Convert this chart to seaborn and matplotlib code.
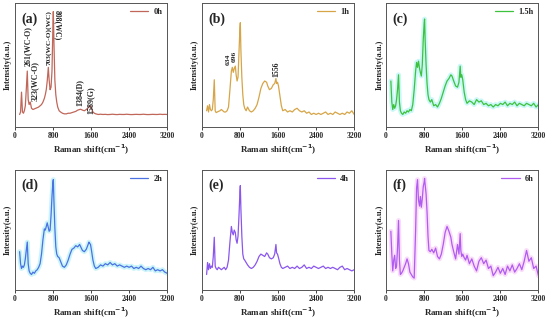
import numpy as np
import pandas as pd
import seaborn as sns
import matplotlib.pyplot as plt

# Raman shift grid (cm^-1), shared by all six spectra
shift = [100, 120, 140, 160, 180, 200, 220, 240, 261, 280, 300, 323, 350, 380, 410, 440, 470, 500,
         530, 560, 590, 620, 640, 660, 680, 703, 720, 740, 760, 780, 800, 808, 820, 840, 860, 880,
         900, 930, 960, 1000, 1040, 1080, 1120, 1160, 1200, 1240, 1280, 1320, 1360, 1384, 1420,
         1460, 1500, 1530, 1556, 1570, 1589, 1610, 1640, 1670, 1700, 1750, 1800, 1850, 1900, 1950,
         2000, 2050, 2100, 2150, 2200, 2250, 2300, 2350, 2400, 2450, 2500, 2550, 2600, 2650, 2700,
         2750, 2800, 2850, 2900, 2950, 3000, 3050, 3100, 3150, 3200]

# intensities (a.u.)
int_0h = [0.10, 0.12, 0.28, 0.12, 0.11, 0.13, 0.17, 0.30, 0.45, 0.22, 0.18, 0.20, 0.15, 0.14, 0.145, 0.15, 0.155, 0.16,
          0.17, 0.18, 0.20, 0.23, 0.26, 0.30, 0.37, 0.48, 0.38, 0.30, 0.32, 0.45, 0.82, 0.93, 0.70, 0.38, 0.26, 0.20,
          0.16, 0.13, 0.12, 0.11, 0.105, 0.105, 0.11, 0.11, 0.115, 0.12, 0.125, 0.135, 0.14, 0.142, 0.135,
          0.13, 0.14, 0.15, 0.16, 0.165, 0.17, 0.15, 0.12, 0.11, 0.105, 0.10, 0.102, 0.10, 0.101, 0.099,
          0.10, 0.102, 0.10, 0.099, 0.101, 0.10, 0.10, 0.102, 0.10, 0.099, 0.10, 0.101, 0.10, 0.10, 0.102,
          0.10, 0.099, 0.10, 0.101, 0.10, 0.10, 0.102, 0.10, 0.101, 0.10]
int_1h = [0.13, 0.17, 0.12, 0.18, 0.14, 0.13, 0.14, 0.22, 0.38, 0.13, 0.115, 0.12, 0.125, 0.13, 0.14, 0.13, 0.12, 0.12,
          0.13, 0.16, 0.30, 0.45, 0.48, 0.44, 0.47, 0.49, 0.42, 0.37, 0.40, 0.60, 0.80, 0.84, 0.62, 0.40, 0.26, 0.18,
          0.15, 0.13, 0.16, 0.13, 0.12, 0.13, 0.15, 0.18, 0.24, 0.31, 0.35, 0.37, 0.36, 0.33, 0.30,
          0.31, 0.34, 0.35, 0.39, 0.35, 0.36, 0.33, 0.25, 0.17, 0.13, 0.14, 0.12, 0.13, 0.12, 0.14,
          0.15, 0.13, 0.12, 0.13, 0.11, 0.12, 0.10, 0.11, 0.10, 0.11, 0.10, 0.11, 0.12, 0.10, 0.11,
          0.10, 0.12, 0.11, 0.10, 0.11, 0.10, 0.12, 0.11, 0.13, 0.10]
int_15h = [0.37, 0.20, 0.14, 0.18, 0.15, 0.17, 0.22, 0.30, 0.42, 0.20, 0.13, 0.11, 0.10, 0.12, 0.11, 0.13, 0.12, 0.14,
           0.13, 0.18, 0.30, 0.45, 0.52, 0.48, 0.53, 0.47, 0.44, 0.41, 0.50, 0.70, 0.84, 0.87, 0.70, 0.50, 0.35, 0.26,
           0.22, 0.20, 0.22, 0.17, 0.18, 0.16, 0.19, 0.23, 0.28, 0.33, 0.37, 0.39, 0.42, 0.41, 0.37,
           0.33, 0.32, 0.36, 0.49, 0.40, 0.42, 0.38, 0.28, 0.22, 0.19, 0.21, 0.20, 0.18, 0.22, 0.20,
           0.21, 0.18, 0.19, 0.17, 0.18, 0.16, 0.18, 0.17, 0.19, 0.18, 0.20, 0.17, 0.19, 0.18, 0.20,
           0.17, 0.19, 0.18, 0.17, 0.19, 0.18, 0.17, 0.19, 0.16, 0.18]
int_2h = [0.32, 0.22, 0.18, 0.20, 0.19, 0.21, 0.26, 0.33, 0.40, 0.22, 0.16, 0.14, 0.13, 0.15, 0.14, 0.16, 0.17, 0.19,
          0.22, 0.30, 0.42, 0.51, 0.50, 0.53, 0.56, 0.52, 0.49, 0.50, 0.62, 0.78, 0.90, 0.92, 0.75, 0.52, 0.36, 0.30,
          0.28, 0.27, 0.24, 0.20, 0.19, 0.21, 0.25, 0.30, 0.34, 0.35, 0.37, 0.36, 0.38, 0.36, 0.33,
          0.32, 0.34, 0.37, 0.40, 0.39, 0.38, 0.33, 0.25, 0.20, 0.18, 0.19, 0.21, 0.20, 0.22, 0.21,
          0.23, 0.21, 0.22, 0.20, 0.21, 0.20, 0.19, 0.20, 0.19, 0.20, 0.18, 0.19, 0.18, 0.20, 0.18,
          0.17, 0.18, 0.17, 0.19, 0.16, 0.17, 0.16, 0.17, 0.15, 0.14]
int_4h = [0.13, 0.23, 0.17, 0.22, 0.18, 0.20, 0.19, 0.28, 0.44, 0.20, 0.18, 0.17, 0.19, 0.18, 0.17, 0.18, 0.19, 0.17,
          0.19, 0.25, 0.40, 0.53, 0.48, 0.46, 0.50, 0.48, 0.42, 0.39, 0.45, 0.62, 0.82, 0.87, 0.68, 0.45, 0.30, 0.26,
          0.25, 0.23, 0.21, 0.19, 0.18, 0.19, 0.21, 0.24, 0.28, 0.30, 0.29, 0.28, 0.31, 0.30, 0.27,
          0.26, 0.27, 0.30, 0.38, 0.31, 0.30, 0.27, 0.22, 0.19, 0.18, 0.19, 0.20, 0.18, 0.19, 0.18,
          0.20, 0.18, 0.19, 0.21, 0.18, 0.19, 0.18, 0.20, 0.19, 0.18, 0.19, 0.20, 0.18, 0.19, 0.18,
          0.19, 0.18, 0.17, 0.19, 0.20, 0.17, 0.18, 0.17, 0.16, 0.17]
int_6h = [0.49, 0.30, 0.16, 0.25, 0.29, 0.18, 0.20, 0.35, 0.58, 0.25, 0.13, 0.14, 0.16, 0.19, 0.22, 0.26, 0.22, 0.15,
          0.13, 0.11, 0.10, 0.50, 0.85, 0.92, 0.75, 0.70, 0.78, 0.69, 0.76, 0.86, 0.90, 0.93, 0.88, 0.80, 0.65, 0.45,
          0.33, 0.32, 0.34, 0.31, 0.35, 0.28, 0.26, 0.30, 0.38, 0.48, 0.53, 0.49, 0.44, 0.38, 0.32,
          0.26, 0.38, 0.30, 0.47, 0.33, 0.28, 0.30, 0.27, 0.25, 0.29, 0.22, 0.26, 0.20, 0.16, 0.24,
          0.27, 0.22, 0.25, 0.18, 0.20, 0.12, 0.15, 0.19, 0.14, 0.18, 0.13, 0.20, 0.16, 0.21, 0.15,
          0.18, 0.22, 0.17, 0.24, 0.33, 0.24, 0.27, 0.18, 0.20, 0.12]

series = [int_0h, int_1h, int_15h, int_2h, int_4h, int_6h]
labels = ['0h', '1h', '1.5h', '2h', '4h', '6h']
panels = ['(a)', '(b)', '(c)', '(d)', '(e)', '(f)']
colors = ['#C0675A', '#D6A548', '#3EC23E', '#4A72E2', '#8A56EE', '#B05CF0']
halo = [None, None, '#B4F4F4', '#B4F0F7', None, '#F8CEF8']

# peak annotations: (x, y bottom, text, rotation, size)
notes = {
    0: [(272, 0.49, '261(WC-O)', 90, 5.8), (420, 0.21, '323(WC-O)', 90, 5.8),
        (711, 0.50, '703(WC-O)(WC)', 90, 5.3), (905, 0.70, '808(WC)', 270, 5.6),
        (1360, 0.17, '1384(D)', 90, 5.8), (1590, 0.10, '1589(G)', 90, 5.8)],
    1: [(560, 0.50, '634', 90, 5.4), (690, 0.52, '696', 90, 5.4), (1558, 0.40, '1556', 90, 5.6)],
}

sns.set_style("ticks")
plt.rcParams['font.family'] = ['Liberation Serif', 'DejaVu Serif']
plt.rcParams['font.weight'] = 'bold'
plt.rcParams['axes.labelweight'] = 'bold'

fig = plt.figure(figsize=(5.5, 3.22), dpi=100)
lefts = [0.027, 0.367, 0.702]
bottoms = [0.606, 0.099]
heights = [0.385, 0.373]

for i in range(6):
    r, c = divmod(i, 3)
    ax = fig.add_axes([lefts[c], bottoms[r], 0.277, heights[r]])
    df = pd.DataFrame({'shift': shift, 'I': series[i]})
    if halo[i]:
        ax.plot(df['shift'], df['I'], color=halo[i], lw=3.5, alpha=0.7, zorder=1)
    sns.lineplot(data=df, x='shift', y='I', ax=ax, color=colors[i], lw=0.9, label=labels[i], zorder=2)
    ax.set_xlim(0, 3200)
    ax.set_ylim(0, 1.0)
    ax.set_xticks([0, 800, 1600, 2400, 3200])
    ax.set_yticks([])
    ax.tick_params(axis='x', labelsize=5.5, length=2, width=0.6, pad=1.5)
    for lab in ax.get_xticklabels():
        lab.set_fontweight('bold')
    ax.set_xlabel('Raman shift(cm$^{\\mathbf{-1}}$)', fontsize=6.5, labelpad=2)
    ax.set_ylabel('Intensity(a.u.)', fontsize=6, labelpad=2)
    for s in ax.spines.values():
        s.set_color('#555555')
        s.set_linewidth(0.7)
    ax.text(0.04, 0.87, panels[i], transform=ax.transAxes, fontsize=10, fontweight='bold', va='center')
    leg = ax.legend(loc='upper right', frameon=False, fontsize=6, handlelength=2.2,
                    borderaxespad=0.2, handletextpad=0.6)
    for t in leg.get_texts():
        t.set_fontweight('bold')
    for x, y, txt, rot, fs in notes.get(i, []):
        ax.text(x, y, txt, rotation=rot, fontsize=fs, fontweight='bold', ha='center', va='bottom')

plt.savefig('out.png', dpi=100)
